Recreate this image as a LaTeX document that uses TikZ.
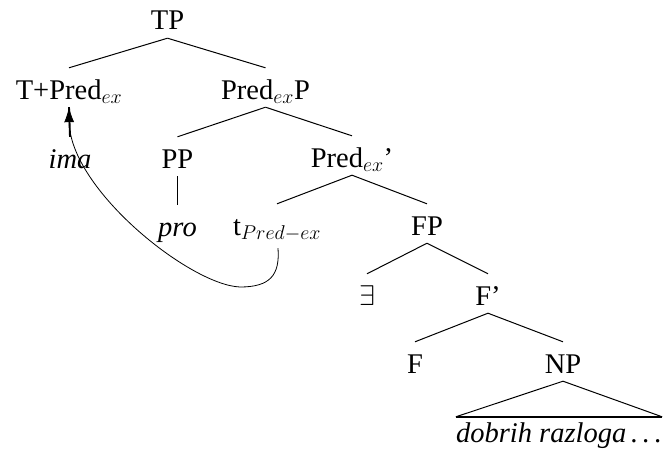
\RequirePackage{fix-cm}
\documentclass[tikz,border=0pt]{standalone}
\usepackage{fontspec}
\setmainfont{Liberation Serif}[Ligatures=TeX]
\usetikzlibrary{arrows.meta,calc}
\begin{document}
\begin{tikzpicture}[x=1pt,y=-1pt,
  every node/.style={font=\rmfamily\fontsize{28.5}{34}\selectfont},
  cat/.style={anchor=base,inner sep=0pt,text height=31pt,text depth=8pt},
  yield/.style={anchor=base,inner sep=0pt,text height=25pt,text depth=7pt},
  branch/.style={line width=1pt},
  unary/.style={line width=1.9pt},
  roof/.style={line width=1.8pt},
  movement/.style={line width=0.8pt,-{Latex[length=15pt,width=10pt]}}]
  \useasboundingbox (0,0) rectangle (663,452);

  % categories, placed by baseline
  \node[cat] (TP)      at (167.5,30)  {TP};
  \node[cat] (T)       at (69,99)     {T+Pred$_{ex}$};
  \node[cat] (PredP)   at (265.5,99)  {Pred$_{ex}$P};
  \node[cat] (ima)     at (70,168)    {\textit{ima}};
  \node[cat] (PP)      at (177.5,168) {PP};
  \node[cat] (PredBar) at (352,167)   {Pred$_{ex}$'};
  \node[cat] (pro)     at (177.5,236) {\textit{pro}};
  \node[cat] (t)       at (277,235)   {t$_{Pred-ex}$};
  \node[cat] (FP)      at (427,235)   {FP};
  \node[cat] (ex)      at (367,305)   {$\exists$};
  \node[cat] (Fbar)    at (488,305)   {F'};
  \node[cat] (F)       at (415,373)   {F};
  \node[cat] (NP)      at (563,373)   {NP};
  \node[yield] (dob)   at (559,442)   {\textit{dobrih razloga\,.\,.\,.}};

  % branches
  \draw[branch] (TP.south) -- (T.north);
  \draw[branch] (TP.south) -- (PredP.north);
  \draw[branch] (PredP.south) -- (PP.north);
  \draw[branch] (PredP.south) -- (PredBar.north);
  \draw[branch] (PredBar.south) -- (t.north);
  \draw[branch] (PredBar.south) -- (FP.north);
  \draw[branch] (FP.south) -- (ex.north);
  \draw[branch] (FP.south) -- (Fbar.north);
  \draw[branch] (Fbar.south) -- (F.north);
  \draw[branch] (Fbar.south) -- (NP.north);
  \draw[unary] (T.south) -- (ima.north);
  \draw[unary] (PP.south) -- (pro.north);

  % roof over the NP yield
  \draw[branch] (dob.north west) -- (NP.south) -- (dob.north east);
  \draw[roof] (dob.north west) -- (dob.north east);

  % head movement from the trace up to T
  \coordinate (dip) at (240,287);
  \draw[movement] ($(t.south)+(1,5)$)
      .. controls ($(t.south)+(3,32)$) and ($(dip)+(30,0)$) .. (dip)
      .. controls ($(dip)+(-50,-2)$) and ($(T.south)+(1,82)$) .. (T.south);
\end{tikzpicture}
\end{document}
